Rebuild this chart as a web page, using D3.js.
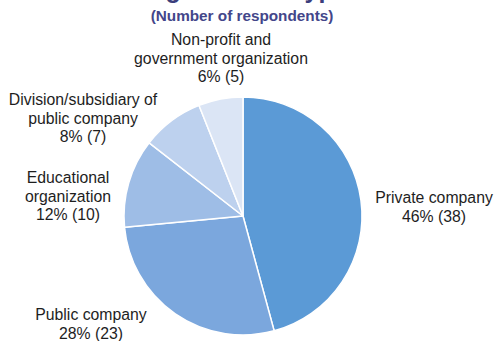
<!DOCTYPE html>
<html>
<head>
<meta charset="utf-8">
<script src="https://cdn.jsdelivr.net/npm/d3@7"></script>
<style>
  html, body { margin: 0; padding: 0; background: #fff; }
  svg { display: block; }
</style>
</head>
<body>
<svg id="chart" width="495" height="341"></svg>
<script>
// Respondents by organization type
const categories = [
  "Private company",
  "Public company",
  "Educational organization",
  "Division/subsidiary of public company",
  "Non-profit and government organization"
];
const counts = [38, 23, 10, 7, 5];
const percentLabels = ["46%", "28%", "12%", "8%", "6%"];
// Label text split into lines
const labelLines = [
  ["Private company"],
  ["Public company"],
  ["Educational", "organization"],
  ["Division/subsidiary of", "public company"],
  ["Non-profit and", "government organization"]
];
const sliceColors = ["#5b9ad6", "#7ba7dd", "#9ebde6", "#bdd1ee", "#dbe5f5"];

// Label anchors (centre x, first baseline), relative to the pie centre
const labelAnchors = [
  [191, -13], [-152, 104], [-175, -33], [-160, -111], [-22, -171]
];

const svg = d3.select("#chart");
const cx = 243, cy = 216, radius = 119;

// Title (runs off the top edge) and subtitle
svg.append("text")
  .attr("x", 242).attr("y", -2)
  .attr("text-anchor", "middle")
  .attr("font-family", "Liberation Sans, Arial, sans-serif")
  .attr("font-weight", "bold")
  .attr("font-size", 25)
  .attr("fill", "#3b3e7c")
  .text("Organization type");

svg.append("text")
  .attr("x", 242).attr("y", 21)
  .attr("text-anchor", "middle")
  .attr("font-family", "Liberation Sans, Arial, sans-serif")
  .attr("font-weight", "bold")
  .attr("font-size", 15.3)
  .attr("fill", "#43468a")
  .text("(Number of respondents)");

const data = categories.map((c, i) => ({
  category: c, count: counts[i], pct: percentLabels[i],
  lines: labelLines[i], color: sliceColors[i], anchor: labelAnchors[i]
}));

const pie = d3.pie().value(d => d.count).sort(null);
const arc = d3.arc().innerRadius(0).outerRadius(radius);

const g = svg.append("g").attr("transform", `translate(${cx},${cy})`);

g.selectAll("path.slice")
  .data(pie(data))
  .join("path")
  .attr("class", "slice")
  .attr("d", arc)
  .attr("fill", d => d.data.color)
  .attr("stroke", "#ffffff")
  .attr("stroke-width", 1.5)
  .attr("stroke-linejoin", "round");

// Slice labels: name lines followed by "pct (count)"
const lineH = 18.5;
const labels = g.selectAll("text.label")
  .data(pie(data))
  .join("text")
  .attr("class", "label")
  .attr("text-anchor", "middle")
  .attr("font-family", "Liberation Sans, Arial, sans-serif")
  .attr("font-size", 15.8)
  .attr("fill", "#1e1e1e");

labels.each(function(d) {
  const t = d3.select(this);
  const lines = d.data.lines.concat([`${d.data.pct} (${d.data.count})`]);
  const [ax, ay] = d.data.anchor;
  lines.forEach((ln, i) => {
    t.append("tspan")
      .attr("x", ax)
      .attr("y", ay + i * lineH)
      .text(ln);
  });
});
</script>
</body>
</html>
